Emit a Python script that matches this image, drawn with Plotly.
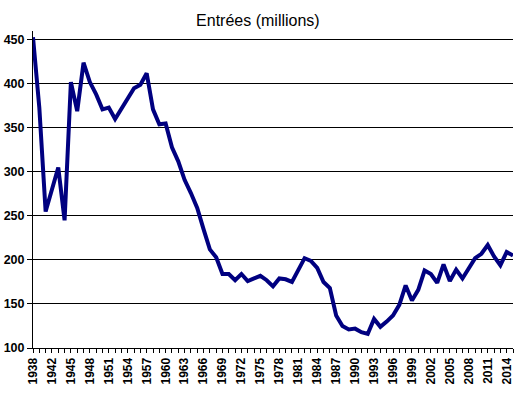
import plotly.graph_objects as go

years = ["1938", "1939", "1941"] + [str(y) for y in range(1942, 2016)]
entrees = [453, 373, 255, 281, 305, 245, 402, 369, 424, 402,
           388, 371, 373, 360, 371, 383, 395, 399, 412, 371,
           354, 355, 328, 312, 291, 276, 259, 235, 212, 203,
           184, 184, 177, 184, 176, 179, 182, 177, 170, 179,
           178, 175, 189, 202, 199, 191, 175, 168, 137, 125,
           121, 122, 118, 116, 133, 124, 130, 137, 149, 171,
           154, 166, 188, 184, 174, 195, 176, 189, 179, 190,
           202, 207, 217, 204, 194, 209, 205]
tick_labels = [y if i % 3 == 0 else "" for i, y in enumerate(years)]
y_ticks = [100, 150, 200, 250, 300, 350, 400, 450]

fig = go.Figure()
fig.add_trace(go.Scatter(
    x=years, y=entrees, mode="lines",
    line=dict(color="#000080", width=4),
    hoverinfo="x+y",
))

fig.update_layout(
    width=521, height=396,
    margin=dict(l=33, r=8, t=31, b=48),
    paper_bgcolor="white", plot_bgcolor="white",
    showlegend=False,
    title=dict(text="Entrées (millions)", x=0.495, xanchor="center",
               y=1 - 20 / 396, yanchor="middle",
               font=dict(family="Liberation Sans, Arial, sans-serif", size=16, color="black")),
    font=dict(family="Liberation Sans, Arial, sans-serif", color="black"),
)
fig.update_xaxes(
    type="category", range=[0, len(years) - 1],
    tickmode="array", tickvals=years, ticktext=tick_labels,
    tickangle=-90, ticks="outside", ticklen=4, tickcolor="black", tickwidth=1,
    tickfont=dict(size=12, weight="bold", color="black"),
    showline=True, linecolor="black", linewidth=1,
    showgrid=False, zeroline=False, automargin=False,
)
fig.update_yaxes(
    range=[100, 460], tickmode="array", tickvals=y_ticks,
    ticks="outside", ticklen=5, tickcolor="black",
    tickfont=dict(size=12.5, weight="bold", color="black"),
    showline=True, linecolor="black", linewidth=1,
    showgrid=True, gridcolor="black", gridwidth=1, zeroline=False, automargin=False,
)

fig.write_html("out.html", config={"displayModeBar": False},
               post_script="document.body.style.margin='0';document.body.style.overflow='hidden';")
